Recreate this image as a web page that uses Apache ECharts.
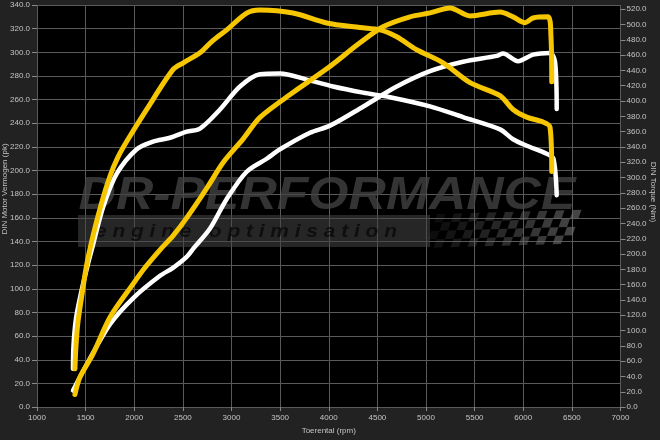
<!DOCTYPE html>
<html>
<head>
<meta charset="utf-8">
<script src="https://cdn.jsdelivr.net/npm/echarts@6/dist/echarts.min.js"></script>
<style>
html,body{margin:0;padding:0;background:#222222;}
#chart{width:660px;height:440px;}
</style>
</head>
<body>
<div id="chart"></div>
<script>
// ---- data (rpm, value) ----
var stockPowerRpm = [1370,1511,1751,1987,2265,2402,2539,2607,2779,2951,3156,3362,3499,3807,4013,4352,4699,5041,5381,5727,5792,5947,6100,6275,6327,6344];
var stockPower    = [14,36,70,92,111,118,127,134,151,176,199,210,218,232,238,254,271,284,292,297,299,292.5,298,299.5,292,252];

var tunedPowerRpm = [1390,1440,1576,1751,1987,2111,2265,2400,2539,2745,2916,3122,3293,3632,3979,4321,4558,4836,5041,5247,5453,5761,5895,6018,6100,6255,6285,6293];
var tunedPower    = [10.6,25,45,76,104,118,133,145,160,185,207,227,245,266,286,308,321.6,330,333.3,337.5,330.8,334,330,325,329,330,313,275];

var stockTorqueRpm = [1370,1375,1400,1442,1510,1576,1682,1820,2025,2193,2368,2539,2676,2882,3087,3293,3499,3773,4044,4352,4630,5041,5381,5761,5895,6036,6241,6310,6344];
var stockTorque    = [50,80,115,143,180,212,262,305,337,347,352,360,364,389,419,435,436,428,419,411,405,393,379,363,350,341.6,331,324.7,277];

var tunedTorqueRpm = [1390,1400,1420,1460,1511,1580,1660,1751,1830,1922,2128,2398,2505,2676,2800,2951,3156,3293,3632,3979,4321,4527,4699,4904,5175,5453,5761,5895,6036,6203,6275,6293];
var tunedTorque    = [50,78,110,145,186,226,265,302,326,347,389,441,450,463,478,493,515,519,515,502,496,493,484,467,450,424,407,389,379,372.6,366,308];

// ---- axis ticks ----
var rpmTicks = [1000,1500,2000,2500,3000,3500,4000,4500,5000,5500,6000,6500,7000];
var powerTicks = [0,20,40,60,80,100,120,140,160,180,200,220,240,260,280,300,320,340];
var torqueTicks = [0,20,40,60,80,100,120,140,160,180,200,220,240,260,280,300,320,340,360,380,400,420,440,460,480,500,520];

function pairs(xs, ys){ return xs.map(function(x,i){ return [x, ys[i]]; }); }

var YELLOW = '#f6c600';
var labelColor = '#c4c4c4';
var gridColor = '#5a5a5a';
var font = 'Liberation Sans, Arial, sans-serif';

// checkered flag decoration
var flag = [];
var sq = 8.5;
for (var r = 0; r < 4; r++) {
  for (var c = 0; c < 17; c++) {
    if ((r + c) % 2 === 0) {
      var op = 0.12 + 0.5 * (c / 16);
      var x0 = 425, y0 = 214;
      flag.push({
        type: 'polygon',
        shape: { points: [
          [x0 + c*sq + (4-r)*3, y0 + r*sq - c*0.25],
          [x0 + (c+1)*sq + (4-r)*3, y0 + r*sq - (c+1)*0.25],
          [x0 + (c+1)*sq + (3-r)*3, y0 + (r+1)*sq - (c+1)*0.25],
          [x0 + c*sq + (3-r)*3, y0 + (r+1)*sq - c*0.25]
        ]},
        style: { fill: 'rgba(110,110,110,' + op.toFixed(2) + ')' },
        silent: true, z: 1
      });
    }
  }
}

var chart = echarts.init(document.getElementById('chart'), null, {renderer:'canvas'});
chart.setOption({
  backgroundColor: '#222222',
  animation: false,
  grid: { left: 37, right: 39.5, top: 5, bottom: 29.4, show: true, backgroundColor: '#000000', borderWidth: 0 },
  xAxis: {
    type: 'value', min: 1000, max: 7000, interval: 500,
    name: 'Toerental (rpm)', nameLocation: 'middle', nameGap: 18,
    nameTextStyle: { color: labelColor, fontSize: 8, fontFamily: font },
    axisLine: { show: false },
    axisTick: { show: true, length: 4, lineStyle: { color: '#888' }, customValues: rpmTicks },
    axisLabel: { color: labelColor, fontSize: 8, fontFamily: font, margin: 7, customValues: rpmTicks,
      formatter: function(v){ return String(v); } },
    splitLine: { show: true, lineStyle: { color: gridColor, width: 1 } }
  },
  yAxis: [
    {
      type: 'value', min: 0, max: 340, interval: 20, position: 'left',
      axisLine: { show: false },
      axisTick: { show: true, length: 5, lineStyle: { color: '#888' }, customValues: powerTicks },
      axisLabel: { color: labelColor, fontSize: 8, fontFamily: font, margin: 7, customValues: powerTicks,
        formatter: function(v){ return Number(v).toFixed(1); } },
      splitLine: { show: true, lineStyle: { color: gridColor, width: 1 } }
    },
    {
      type: 'value', min: 0, max: 525.5, position: 'right',
      axisLine: { show: false },
      axisTick: { show: true, length: 5, lineStyle: { color: '#888' }, customValues: torqueTicks },
      axisLabel: { color: labelColor, fontSize: 8, fontFamily: font, margin: 6, customValues: torqueTicks,
        formatter: function(v){ return Number(v).toFixed(1); } },
      splitLine: { show: false }
    }
  ],
  graphic: [
    { type: 'text', silent: true, z: 1, x: 327, y: 196, scaleX: 1.1,
      style: { x: 0, y: 0, text: 'DR-PERFORMANCE', fill: 'rgba(70,70,70,0.75)',
        font: 'italic bold 47px ' + font, textAlign: 'center', textVerticalAlign: 'middle' } },
    { type: 'rect', silent: true, z: 1,
      shape: { x: 78, y: 215, width: 352, height: 32 },
      style: { fill: 'rgba(70,70,70,0.55)' } },
    { type: 'text', silent: true, z: 1, x: 95, y: 232, scaleX: 1.1,
      style: { x: 0, y: 0, text: 'e n g i n e   o p t i m i s a t i o n', fill: 'rgba(10,10,10,0.85)',
        font: 'italic bold 19px ' + font, textAlign: 'left', textVerticalAlign: 'middle' } },
    { type: 'group', silent: true, children: flag },
    { type: 'text', silent: true, z: 5, rotation: Math.PI/2, x: 4.5, y: 189,
      style: { text: 'DIN Motor Vermogen (pk)', fill: labelColor, font: '8px ' + font,
        textAlign: 'center', textVerticalAlign: 'middle' } },
    { type: 'text', silent: true, z: 5, rotation: -Math.PI/2, x: 653, y: 192,
      style: { text: 'DIN Torque (Nm)', fill: labelColor, font: '8px ' + font,
        textAlign: 'center', textVerticalAlign: 'middle' } }
  ],
  series: [
    { name: 'Vermogen standaard', type: 'line', yAxisIndex: 0, data: pairs(stockPowerRpm, stockPower),
      showSymbol: false, smooth: 0.3, z: 3,
      lineStyle: { color: '#ffffff', width: 4.5, cap: 'round', join: 'round' } },
    { name: 'Koppel standaard', type: 'line', yAxisIndex: 1, data: pairs(stockTorqueRpm, stockTorque),
      showSymbol: false, smooth: 0.3, z: 3,
      lineStyle: { color: '#ffffff', width: 4.5, cap: 'round', join: 'round' } },
    { name: 'Vermogen getuned', type: 'line', yAxisIndex: 0, data: pairs(tunedPowerRpm, tunedPower),
      showSymbol: false, smooth: 0.3, z: 4,
      lineStyle: { color: YELLOW, width: 5, cap: 'round', join: 'round' } },
    { name: 'Koppel getuned', type: 'line', yAxisIndex: 1, data: pairs(tunedTorqueRpm, tunedTorque),
      showSymbol: false, smooth: 0.3, z: 4,
      lineStyle: { color: YELLOW, width: 5, cap: 'round', join: 'round' } }
  ]
});
</script>
</body>
</html>
